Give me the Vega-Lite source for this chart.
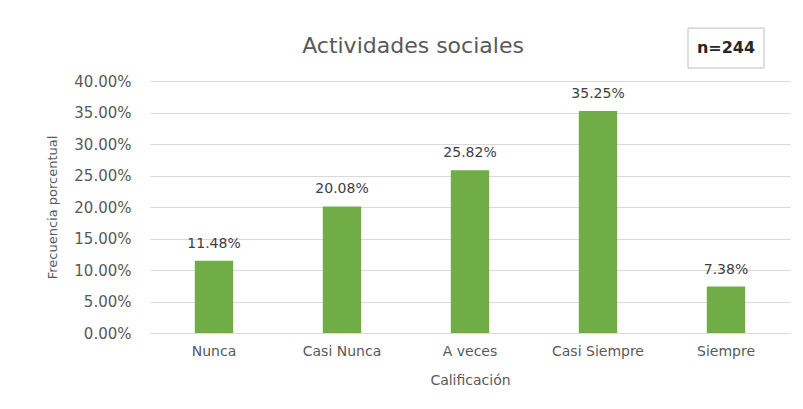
{
  "$schema": "https://vega.github.io/schema/vega-lite/v6.json",
  "width": 640,
  "height": 252,
  "autosize": {"type": "none"},
  "padding": {"left": 150, "top": 81, "right": 13, "bottom": 76},
  "background": "white",
  "title": {
    "text": "Actividades sociales",
    "font": "DejaVu Sans",
    "fontSize": 22,
    "fontWeight": "normal",
    "color": "#595959",
    "dx": -57,
    "dy": 42,
    "offset": 12
  },
  "config": {
    "view": {"stroke": null},
    "font": "DejaVu Sans",
    "axisX": {
      "labelAngle": 0,
      "labelFont": "DejaVu Sans",
      "labelFontSize": 14,
      "labelColor": "#595959",
      "labelPadding": 11,
      "ticks": false,
      "tickSize": 0,
      "domainColor": "#d9d9d9",
      "domainWidth": 1,
      "titleFont": "DejaVu Sans",
      "titleFontSize": 14,
      "titleFontWeight": "normal",
      "titleColor": "#595959",
      "titlePadding": 15
    },
    "axisY": {
      "labelOverlap": false,
      "labelFont": "DejaVu Sans",
      "labelFontSize": 15,
      "labelColor": "#595959",
      "labelPadding": 19,
      "ticks": false,
      "tickSize": 0,
      "domain": false,
      "gridColor": "#d9d9d9",
      "gridWidth": 1,
      "titleFont": "DejaVu Sans",
      "titleFontSize": 13,
      "titleFontWeight": "normal",
      "titleColor": "#595959",
      "titlePadding": 14
    }
  },
  "data": {
    "values": [
      {"calificacion": "Nunca", "pct": 0.1148},
      {"calificacion": "Casi Nunca", "pct": 0.2008},
      {"calificacion": "A veces", "pct": 0.2582},
      {"calificacion": "Casi Siempre", "pct": 0.3525},
      {"calificacion": "Siempre", "pct": 0.0738}
    ]
  },
  "layer": [
    {
      "mark": {"type": "bar", "color": "#70AD47"},
      "encoding": {
        "x": {
          "field": "calificacion",
          "type": "nominal",
          "sort": null,
          "title": "Calificación",
          "scale": {"paddingInner": 0.7, "paddingOuter": 0.35}
        },
        "y": {
          "field": "pct",
          "type": "quantitative",
          "title": "Frecuencia porcentual",
          "scale": {"domain": [0, 0.4], "nice": false},
          "axis": {"values": [0, 0.05, 0.1, 0.15, 0.2, 0.25, 0.3, 0.35, 0.4], "tickCount": 12, "format": ".2%"}
        }
      }
    },
    {
      "mark": {"type": "text", "baseline": "bottom", "dy": -10, "font": "DejaVu Sans", "fontSize": 14, "color": "#404040"},
      "encoding": {
        "x": {"field": "calificacion", "type": "nominal", "sort": null, "title": "Calificación"},
        "y": {
          "field": "pct",
          "type": "quantitative",
          "title": "Frecuencia porcentual",
          "axis": {"values": [0, 0.05, 0.1, 0.15, 0.2, 0.25, 0.3, 0.35, 0.4], "tickCount": 12, "format": ".2%"}
        },
        "text": {"field": "pct", "type": "quantitative", "format": ".2%"}
      }
    },
    {
      "data": {"values": [{"label": "n=244"}]},
      "mark": {"type": "bar", "width": 76, "fill": "white", "stroke": "#bfbfbf", "strokeWidth": 1},
      "encoding": {
        "x": {"datum": "Siempre", "type": "nominal", "title": "Calificación"},
        "y": {
          "datum": 0.484,
          "type": "quantitative",
          "title": "Frecuencia porcentual",
          "axis": {"values": [0, 0.05, 0.1, 0.15, 0.2, 0.25, 0.3, 0.35, 0.4], "tickCount": 12, "format": ".2%"}
        },
        "y2": {"datum": 0.4206}
      }
    },
    {
      "data": {"values": [{"label": "n=244"}]},
      "mark": {"type": "text", "font": "DejaVu Sans", "fontSize": 16, "fontWeight": "bold", "color": "#262626", "baseline": "middle"},
      "encoding": {
        "x": {"datum": "Siempre", "type": "nominal", "title": "Calificación"},
        "y": {
          "datum": 0.4524,
          "type": "quantitative",
          "title": "Frecuencia porcentual",
          "axis": {"values": [0, 0.05, 0.1, 0.15, 0.2, 0.25, 0.3, 0.35, 0.4], "tickCount": 12, "format": ".2%"}
        },
        "text": {"field": "label"}
      }
    }
  ]
}
